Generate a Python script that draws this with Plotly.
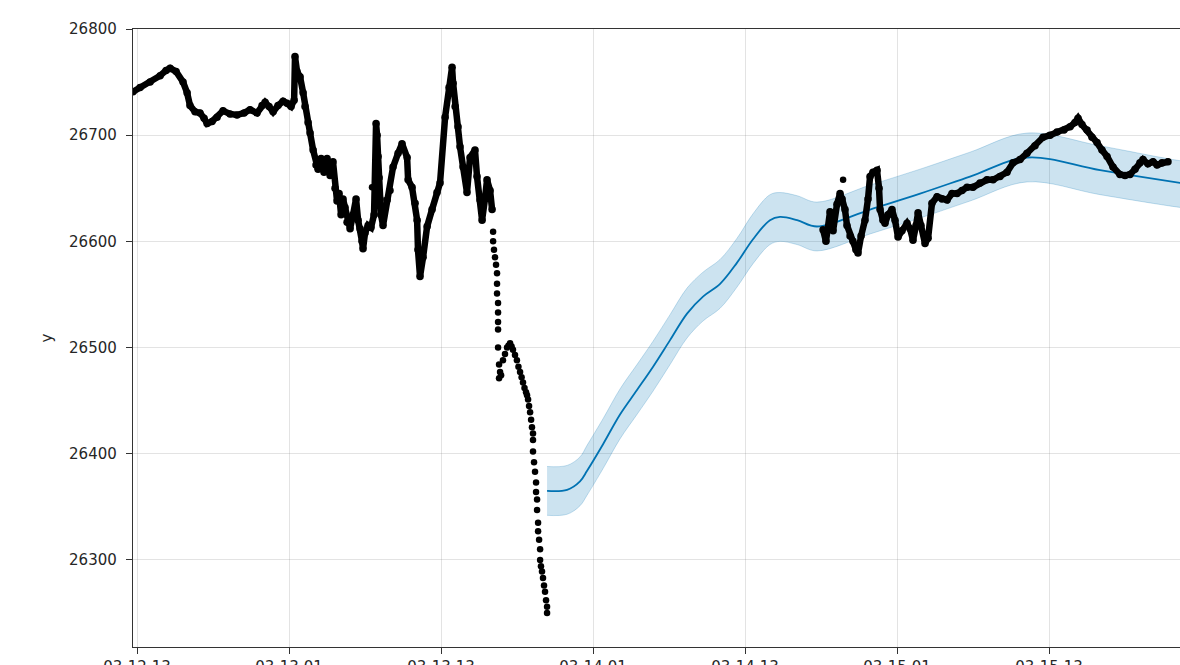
import pandas as pd
import plotly.graph_objects as go

BASE = pd.Timestamp("2023-03-12 13:00")

# ---- observed history (hours after BASE, value) : dense stretches ----
hist_a_hours = [-0.32, 0.24, 1.03, 1.82, 2.29, 2.61, 3.08, 3.63, 3.95, 4.18, 4.58, 4.97, 5.29, 5.53,
                5.92, 6.32, 6.79, 7.34, 7.89, 8.45, 8.92, 9.47, 9.87, 10.11, 10.42, 10.74, 11.13,
                11.53, 11.84, 12.16, 12.40, 12.47, 12.63, 12.87, 13.11, 13.26, 13.50, 13.66, 13.90,
                14.13, 14.29, 14.53, 14.76, 15.00, 15.24, 15.47, 15.63, 15.79, 15.95, 16.11, 16.26,
                16.42, 16.58, 16.82, 17.05, 17.29, 17.45, 17.61, 17.76, 17.84, 18.00, 18.24, 18.47,
                18.71, 18.87, 18.95, 19.03, 19.11, 19.18, 19.26, 19.42, 19.74, 19.97, 20.21, 20.61,
                20.92, 21.32, 21.40, 21.71, 21.95, 22.11, 22.18, 22.34, 22.58, 22.90, 23.29, 23.68,
                23.92, 24.32, 24.63, 24.87, 24.95, 25.11, 25.34, 25.50, 25.74, 26.05, 26.29, 26.68,
                26.84, 27.08, 27.24, 27.47, 27.63, 27.87, 28.03]
hist_a_values = [26741, 26745, 26750, 26756, 26761, 26763, 26760, 26750, 26740, 26728, 26722, 26721,
                 26716, 26711, 26713, 26717, 26723, 26720, 26719, 26721, 26724, 26721, 26728, 26731,
                 26727, 26722, 26728, 26732, 26730, 26727, 26733, 26774, 26760, 26755, 26740, 26727,
                 26712, 26702, 26686, 26672, 26668, 26678, 26665, 26678, 26662, 26675, 26650, 26638,
                 26645, 26625, 26640, 26632, 26618, 26612, 26625, 26640, 26620, 26612, 26600, 26593,
                 26608, 26615, 26613, 26625, 26711, 26700, 26680, 26660, 26640, 26625, 26615, 26639,
                 26648, 26670, 26683, 26692, 26679, 26658, 26651, 26636, 26620, 26592, 26567, 26585,
                 26614, 26630, 26646, 26655, 26717, 26745, 26764, 26749, 26727, 26708, 26689, 26670,
                 26646, 26679, 26686, 26661, 26639, 26620, 26640, 26658, 26648, 26630]

hist_b_hours = [54.16, 54.39, 54.71, 54.95, 55.26, 55.50, 55.66, 55.89, 56.05, 56.29, 56.52, 56.76,
                56.92, 57.16, 57.47, 57.71, 57.87, 58.10, 58.42, 58.58, 58.66, 58.89, 59.05, 59.29,
                59.60, 59.84, 60.08, 60.39, 60.79, 61.03, 61.26, 61.50, 61.66, 61.89, 62.21, 62.45,
                62.76, 63.16, 63.55, 63.95, 64.34, 64.74, 65.13, 65.53, 66.00, 66.55, 67.10, 67.58,
                68.13, 68.68, 69.16, 69.71, 70.26, 70.89, 71.53, 72.08, 72.63, 73.18, 73.66, 74.05,
                74.29, 74.60, 75.00, 75.39, 75.79, 76.18, 76.58, 77.05, 77.60, 78.00, 78.39, 78.79,
                79.18, 79.42, 79.81, 80.21, 80.53, 80.92, 81.39]
hist_b_values = [26611, 26600, 26628, 26610, 26635, 26645, 26640, 26630, 26615, 26605, 26600, 26592,
                 26589, 26605, 26620, 26640, 26661, 26665, 26667, 26650, 26630, 26620, 26617, 26625,
                 26630, 26620, 26604, 26610, 26617, 26612, 26601, 26615, 26627, 26615, 26598, 26603,
                 26636, 26642, 26640, 26639, 26645, 26645, 26648, 26651, 26651, 26655, 26658, 26658,
                 26661, 26665, 26674, 26677, 26683, 26690, 26698, 26700, 26703, 26705, 26708, 26712,
                 26716, 26710, 26705, 26698, 26693, 26686, 26680, 26670, 26663, 26662, 26663, 26668,
                 26674, 26677, 26673, 26675, 26672, 26674, 26675]

# ---- observed history : sparse / isolated points ----
hist_c_hours = [18.55, 55.74,
                28.11, 28.11, 28.18, 28.26, 28.34, 28.42, 28.42, 28.42, 28.50, 28.50, 28.50, 28.50,
                28.50, 28.58, 28.58, 28.66, 28.74, 28.89, 29.05, 29.21, 29.33, 29.45, 29.57, 29.68,
                29.84, 29.99, 30.11, 30.24, 30.36, 30.47, 30.59, 30.71, 30.79, 30.87, 30.95, 31.03,
                31.11, 31.18, 31.26, 31.26, 31.26, 31.34, 31.42, 31.50, 31.50, 31.58, 31.58, 31.66,
                31.66, 31.74, 31.82, 31.82, 31.89, 31.97, 32.05, 32.13, 32.21, 32.29, 32.37, 32.37]
hist_c_values = [26651, 26658,
                 26609, 26600, 26592, 26585, 26578, 26570, 26560, 26551, 26542, 26533, 26524, 26517,
                 26500, 26484, 26471, 26477, 26474, 26488, 26494, 26500, 26502, 26504, 26501, 26498,
                 26493, 26488, 26482, 26477, 26472, 26467, 26462, 26458, 26455, 26451, 26445, 26439,
                 26432, 26425, 26419, 26413, 26402, 26392, 26383, 26373, 26364, 26357, 26347, 26335,
                 26327, 26319, 26310, 26300, 26294, 26289, 26283, 26276, 26270, 26262, 26256, 26250]

# ---- forecast ----
fc_hours = [32.37, 33.95, 34.97, 35.53, 36.79, 38.13, 39.47, 40.74, 42.08, 43.42, 44.68, 46.03,
            47.37, 48.63, 49.97, 50.76, 52.11, 53.68, 57.87, 61.82, 65.76, 70.26, 76.03, 82.34, 84.0]
fc_yhat = [26365, 26366, 26374, 26384, 26409, 26437, 26460, 26482, 26507, 26532, 26548, 26560,
           26580, 26602, 26620, 26623, 26620, 26614, 26630, 26645, 26661, 26679, 26667, 26655, 26652]
fc_upper = [26388, 26389, 26397, 26408, 26433, 26461, 26484, 26506, 26531, 26556, 26571, 26583,
            26603, 26626, 26644, 26646, 26643, 26637, 26653, 26668, 26684, 26702, 26690, 26676, 26674]
fc_lower = [26342, 26343, 26351, 26361, 26386, 26414, 26437, 26459, 26484, 26509, 26525, 26537,
            26557, 26579, 26597, 26600, 26597, 26591, 26607, 26622, 26638, 26656, 26644, 26632, 26630]

y_ticks = [26300, 26400, 26500, 26600, 26700, 26800]


def to_time(hours):
    return [BASE + pd.Timedelta(hours=h) for h in hours]


BLUE = "#0072B2"
fig = go.Figure()

fig.add_trace(go.Scatter(x=to_time(fc_hours), y=fc_upper, mode="lines",
                         line=dict(color="rgba(0,114,178,0.22)", width=1, shape="spline"),
                         hoverinfo="skip"))
fig.add_trace(go.Scatter(x=to_time(fc_hours), y=fc_lower, mode="lines", fill="tonexty",
                         fillcolor="rgba(0,114,178,0.2)",
                         line=dict(color="rgba(0,114,178,0.22)", width=1, shape="spline"),
                         hoverinfo="skip"))
fig.add_trace(go.Scatter(x=to_time(fc_hours), y=fc_yhat, mode="lines",
                         line=dict(color=BLUE, width=1.8, shape="spline")))

for hrs, vals in [(hist_a_hours, hist_a_values), (hist_b_hours, hist_b_values)]:
    fig.add_trace(go.Scatter(x=to_time(hrs), y=vals, mode="lines+markers",
                             line=dict(color="black", width=6.5),
                             marker=dict(color="black", size=7.5)))
fig.add_trace(go.Scatter(x=to_time(hist_c_hours), y=hist_c_values, mode="markers",
                         marker=dict(color="black", size=6.5)))

axis_font = dict(family="DejaVu Sans", size=15, color="#262626")
fig.update_layout(
    width=1180, height=665,
    margin=dict(l=133, r=0, t=29, b=18),
    plot_bgcolor="white", paper_bgcolor="white",
    showlegend=False,
    font=axis_font,
)
fig.update_xaxes(
    range=[BASE + pd.Timedelta(hours=-0.32), BASE + pd.Timedelta(hours=82.34)],
    tick0=BASE, dtick=12 * 3600 * 1000, tickformat="%m-%d %H",
    showgrid=True, gridcolor="rgba(128,128,128,0.22)", gridwidth=1,
    showline=True, linecolor="#333333", linewidth=1.4, mirror=True,
    ticks="outside", ticklen=6, tickwidth=1.3, tickcolor="#333333",
    tickfont=axis_font, zeroline=False, automargin=False,
)
fig.update_yaxes(
    range=[26218, 26800], tickvals=y_ticks, tickformat="d",
    showgrid=True, gridcolor="rgba(128,128,128,0.22)", gridwidth=1,
    showline=True, linecolor="#333333", linewidth=1.4,
    ticks="outside", ticklen=6, tickwidth=1.3, tickcolor="#333333",
    tickfont=axis_font, zeroline=False, ticklabelstandoff=6, automargin=False,
    title=dict(text="y", font=axis_font, standoff=12),
)

fig.write_html("out.html")
